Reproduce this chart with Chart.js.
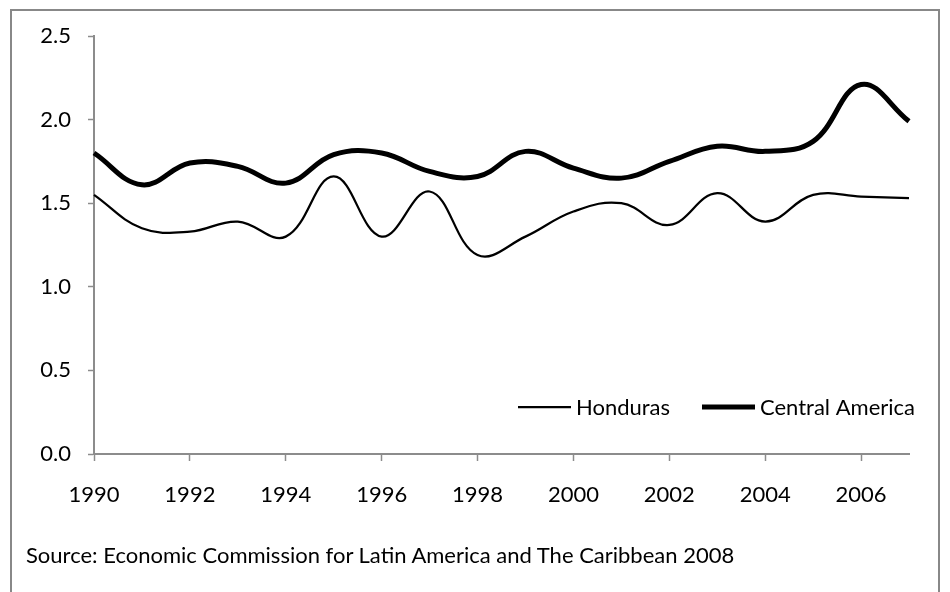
<!DOCTYPE html>
<html>
<head>
<meta charset="utf-8">
<script src="https://cdn.jsdelivr.net/npm/chart.js@4.4.1/dist/chart.umd.min.js"></script>
<style>
    body { margin: 0; background: #fff; }
    #wrap { position: relative; width: 950px; height: 592px; overflow: hidden; }
    #frame {
        position: absolute; left: 10px; top: 9px; width: 930px; height: 620px;
        border: 2px solid #888; box-sizing: border-box;
    }
    #songChart { position: absolute; left: 0; top: 0; }
    #source {
        position: absolute; left: 26px; top: 541px;
        font-family: Lato, sans-serif; font-size: 22px; color: #000; white-space: nowrap;
    }
</style>
</head>
<body>
<div id="wrap">
    <div id="frame"></div>
    <canvas id="songChart" width="950" height="592"></canvas>
    <div id="source">Source: Economic Commission for Latin America and The Caribbean 2008</div>
</div>
<script>
// data
const years = ["1990", "1991", "1992", "1993", "1994", "1995", "1996", "1997", "1998",
               "1999", "2000", "2001", "2002", "2003", "2004", "2005", "2006", "2007"];
const honduras = [1.55, 1.35, 1.33, 1.39, 1.30, 1.66, 1.30, 1.57, 1.19,
                  1.30, 1.45, 1.50, 1.37, 1.56, 1.39, 1.55, 1.54, 1.53];
const centralAmerica = [1.80, 1.61, 1.74, 1.72, 1.62, 1.79, 1.80, 1.69, 1.66,
                        1.81, 1.71, 1.65, 1.75, 1.84, 1.81, 1.87, 2.21, 1.99];
const yTicks = [0, 0.5, 1.0, 1.5, 2.0, 2.5];

const axisGray = "#8c8c8c";
const fontFamily = "Lato, sans-serif";

// legend drawn inside the plot, lower right, like the original
const insideLegend = {
    id: "insideLegend",
    afterDraw(chart) {
        const ctx = chart.ctx;
        const startX = [518, 702];
        const y = 407;
        ctx.save();
        ctx.font = "22px " + fontFamily;
        ctx.textBaseline = "middle";
        ctx.fillStyle = "#000";
        chart.data.datasets.forEach(function (ds, i) {
            ctx.beginPath();
            ctx.strokeStyle = ds.borderColor;
            ctx.lineWidth = ds.borderWidth;
            ctx.moveTo(startX[i], y);
            ctx.lineTo(startX[i] + 53, y);
            ctx.stroke();
            ctx.fillText(ds.label, startX[i] + 58, y + 1);
        });
        ctx.restore();
    }
};

document.addEventListener("DOMContentLoaded", function () {
    const ctx = document.getElementById("songChart").getContext("2d");

    new Chart(ctx, {
        type: "line",
        data: {
            labels: years,
            datasets: [
                {
                    label: "Honduras",
                    data: honduras,
                    borderColor: "#000",
                    borderWidth: 2.25,
                    pointRadius: 0,
                    tension: 0.4,
                },
                {
                    label: "Central America",
                    data: centralAmerica,
                    borderColor: "#000",
                    borderWidth: 5,
                    pointRadius: 0,
                    tension: 0.4,
                },
            ],
        },
        options: {
            responsive: false,
            animation: false,
            layout: { padding: { left: 0, top: 36, right: 41, bottom: 0 } },
            plugins: {
                legend: { display: false },
                tooltip: { enabled: false },
            },
            scales: {
                x: {
                    afterFit: function (scale) { scale.height = 138; },
                    grid: {
                        drawOnChartArea: false,
                        drawTicks: true,
                        tickLength: 7,
                        tickWidth: 1.5,
                        tickColor: function (c) { return c.index % 2 === 0 ? axisGray : "rgba(0,0,0,0)"; },
                    },
                    border: { display: true, color: axisGray, width: 2 },
                    ticks: {
                        autoSkip: false,
                        maxRotation: 0,
                        padding: 21,
                        color: "#000",
                        font: { family: fontFamily, size: 22 },
                        callback: function (value, index) {
                            return index % 2 === 0 ? years[index] : "";
                        },
                    },
                },
                y: {
                    min: 0,
                    max: 2.5,
                    afterFit: function (scale) { scale.width = 94; },
                    afterBuildTicks: function (scale) {
                        scale.ticks = yTicks.map(function (v) { return { value: v }; });
                    },
                    grid: {
                        drawOnChartArea: false,
                        drawTicks: true,
                        tickLength: 6,
                        tickWidth: 1.5,
                        tickColor: axisGray,
                    },
                    border: { display: true, color: axisGray, width: 2 },
                    ticks: {
                        padding: 17,
                        color: "#000",
                        font: { family: fontFamily, size: 22 },
                        callback: function (value) { return value.toFixed(1); },
                    },
                },
            },
        },
        plugins: [insideLegend],
    });
});
</script>
</body>
</html>
